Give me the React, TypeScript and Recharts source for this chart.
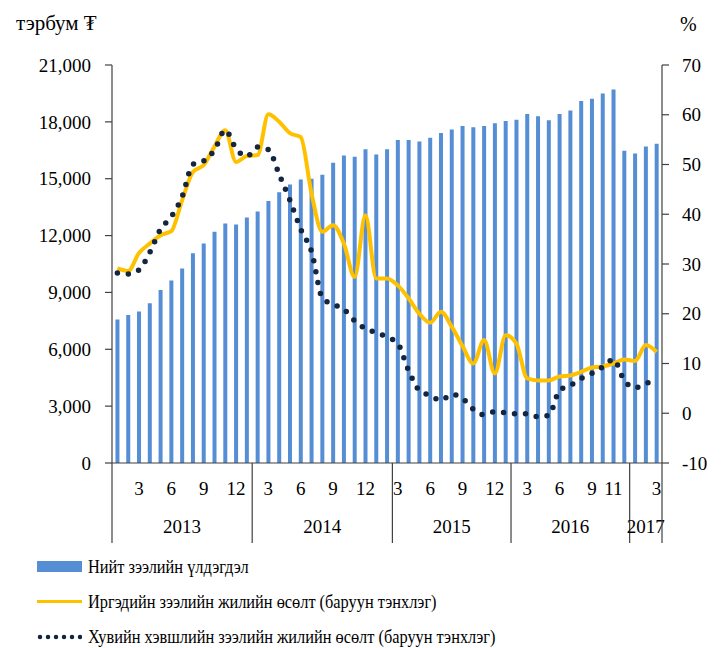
import React from "react"
import {
  ComposedChart, Bar, Line, XAxis, YAxis
} from "recharts"

// Jan 2013 .. Mar 2017, one entry per month
const loanBalance = [
  7570, 7815, 7990, 8430, 9130, 9630, 10260, 11070, 11580, 12200, 12640, 12590, 12960,
  13270, 13830, 14280, 14700, 14960, 15000, 15210, 15840, 16230, 16160, 16550, 16280, 16550,
  17040, 17040, 16970, 17160, 17410, 17600, 17780, 17710, 17780, 17920, 18040,
  18110, 18410, 18290, 18090, 18410, 18600, 19100, 19220, 19490, 19710, 16470,
  16330, 16700, 16840,
]

const householdGrowth = [
  29.1, 28.6, 32.2, 34.1, 35.8, 36.6, 42.8, 48.5, 49.9, 53.6, 56.9, 50.5, 51.7,
  51.9, 60.1, 58.6, 56.3, 55.5, 44.2, 36.5, 37.8, 34.1, 27.4, 39.8, 27.1, 27.1,
  25.7, 23.1, 20.0, 18.2, 20.4, 17.4, 13.5, 10.0, 14.7, 8.0, 15.7,
  14.0, 7.0, 6.6, 6.6, 7.4, 7.6, 8.3, 9.2, 9.4, 10.0, 10.8,
  10.5, 13.7, 12.3,
]

const privateGrowth = [
  28.2, 28.0, 28.8, 32.3, 37.0, 39.5, 43.5, 50.0, 50.7, 52.9, 56.9, 53.2, 51.6,
  53.5, 53.0, 48.0, 42.8, 37.0, 32.5, 23.2, 21.9, 20.9, 18.6, 17.0, 16.2, 15.3,
  14.0, 8.6, 4.6, 3.6, 2.6, 3.8, 3.0, 0.8, -0.3, 0.3, 0.1,
  -0.1, -0.1, -0.7, -0.4, 4.6, 5.6, 7.0, 8.0, 9.3, 10.8, 6.6,
  5.1, 6.0, 6.4,
]

const monthLabels = [
  "", "", "3", "", "", "6", "", "", "9", "", "", "12", "",
  "", "3", "", "", "6", "", "", "9", "", "", "12", "", "",
  "3", "", "", "6", "", "", "9", "", "", "12", "",
  "", "3", "", "", "6", "", "", "9", "", "11", "",
  "", "", "3",
]

// year groups as drawn on the axis: first category, label category
const yearNames = ["2013", "2014", "2015", "2016", "2017"]
const yearStart = [0, 13, 26, 37, 48]
const yearMid = [6, 19, 31, 42, 49]

const data = loanBalance.map((v, i) => ({
  i,
  loans: v,
  household: householdGrowth[i],
  priv: privateGrowth[i],
}))

const FONT = "Liberation Serif, DejaVu Serif, serif"
const AXIS = "#404040"
const BLUE = "#558ed5"
const GOLD = "#ffc000"
const NAVY = "#14253f"

const PLOT_W = 550
const HALF = PLOT_W / data.length / 2

function CategoryTick(props: any) {
  const { x, y, payload } = props
  const idx = payload.index
  const yr = yearMid.indexOf(idx)
  return (
    <g>
      {monthLabels[idx] && (
        <text x={x} y={y + 32} textAnchor="middle" fontSize={19} fontFamily={FONT} fill="#000">
          {monthLabels[idx]}
        </text>
      )}
      {yr >= 0 && (
        <text x={x} y={y + 70} textAnchor="middle" fontSize={19} fontFamily={FONT} fill="#000">
          {yearNames[yr]}
        </text>
      )}
      {yearStart.includes(idx) && (
        <line x1={x - HALF} x2={x - HALF} y1={y} y2={y + 80} stroke={AXIS} strokeWidth={1.2} />
      )}
      {idx === data.length - 1 && (
        <line x1={x + HALF} x2={x + HALF} y1={y} y2={y + 80} stroke={AXIS} strokeWidth={1.2} />
      )}
    </g>
  )
}

const tickStyle = { fontSize: 19, fontFamily: FONT, fill: "#000" }

const legendText = {
  display: "inline-block",
  transform: "scaleX(0.86)",
  transformOrigin: "left center",
  whiteSpace: "nowrap" as const,
}

export default function App() {
  return (
    <div style={{ position: "absolute", left: 0, top: 0, width: 722, height: 648, background: "#fff", fontFamily: FONT }}>
      <div style={{ position: "absolute", left: 16, top: 11, fontSize: 21 }}>тэрбум ₮</div>
      <div style={{ position: "absolute", left: 680, top: 13, fontSize: 20 }}>%</div>

      <ComposedChart
        width={722}
        height={548}
        data={data}
        margin={{ top: 65, right: 0, left: 0, bottom: 5 }}
        barCategoryGap="32%"
      >
        <XAxis
          dataKey="i"
          interval={0}
          height={80}
          tickSize={0}
          tickMargin={0}
          tickLine={false}
          axisLine={{ stroke: AXIS, strokeWidth: 1.2 }}
          tick={<CategoryTick />}
        />
        <YAxis
          yAxisId="left"
          width={112}
          domain={[0, 21000]}
          ticks={[0, 3000, 6000, 9000, 12000, 15000, 18000, 21000]}
          tickFormatter={(v) => Number(v).toLocaleString("en-US")}
          tick={tickStyle}
          tickSize={7}
          tickMargin={14}
          tickLine={{ stroke: AXIS, strokeWidth: 1.2 }}
          axisLine={{ stroke: AXIS, strokeWidth: 1.2 }}
          allowDataOverflow
        />
        <YAxis
          yAxisId="right"
          orientation="right"
          width={60}
          domain={[-10, 70]}
          ticks={[-10, 0, 10, 20, 30, 40, 50, 60, 70]}
          tick={{ ...tickStyle, textAnchor: "start" }}
          tickSize={7}
          tickMargin={13}
          tickLine={{ stroke: AXIS, strokeWidth: 1.2 }}
          axisLine={{ stroke: AXIS, strokeWidth: 1.2 }}
          allowDataOverflow
        />
        <Bar yAxisId="left" dataKey="loans" fill={BLUE} isAnimationActive={false} />
        <Line
          yAxisId="right"
          type="monotone"
          dataKey="household"
          stroke={GOLD}
          strokeWidth={4}
          dot={false}
          isAnimationActive={false}
        />
        <Line
          yAxisId="right"
          type="monotone"
          dataKey="priv"
          stroke={NAVY}
          strokeWidth={5.5}
          strokeDasharray="0 11"
          strokeLinecap="round"
          dot={false}
          isAnimationActive={false}
        />
      </ComposedChart>

      {/* legend */}
      <div style={{ position: "absolute", left: 37, top: 549, fontSize: 19, lineHeight: "35px" }}>
        <div style={{ display: "flex", alignItems: "center", height: 35 }}>
          <span style={{ display: "inline-block", width: 45, height: 11, background: BLUE, marginRight: 6 }} />
          <span style={legendText}>Нийт зээлийн үлдэгдэл</span>
        </div>
        <div style={{ display: "flex", alignItems: "center", height: 35 }}>
          <span style={{ display: "inline-block", width: 45, height: 3, background: GOLD, marginRight: 6 }} />
          <span style={legendText}>Иргэдийн зээлийн жилийн өсөлт (баруун тэнхлэг)</span>
        </div>
        <div style={{ display: "flex", alignItems: "center", height: 35 }}>
          <svg width={45} height={6} style={{ marginRight: 6 }}>
            <line x1={3} x2={44} y1={3} y2={3} stroke={NAVY} strokeWidth={4.5} strokeDasharray="0 8" strokeLinecap="round" />
          </svg>
          <span style={legendText}>Хувийн хэвшлийн зээлийн жилийн өсөлт (баруун тэнхлэг)</span>
        </div>
      </div>
    </div>
  )
}
